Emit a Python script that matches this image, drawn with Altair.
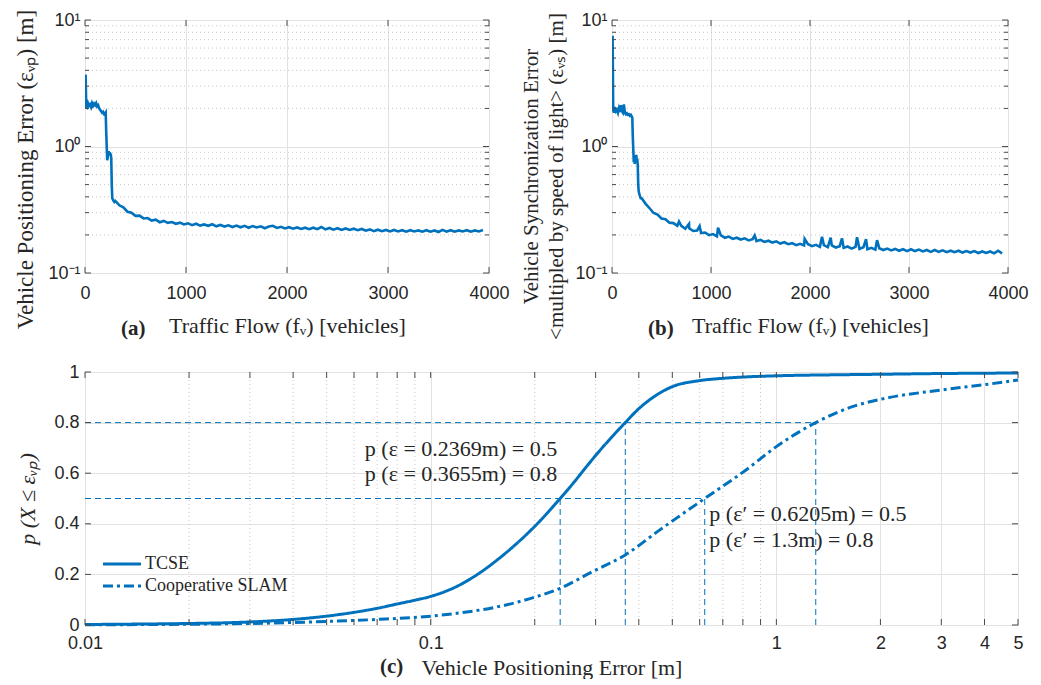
import altair as alt
import pandas as pd

BLUE = "#0072BD"
TXT = "#262626"
FRAME = "#4a4a4a"
GRID = "#e2e2e2"
MINOR = "#c8c8c8"
SANS = "Liberation Sans"
SERIF = "Liberation Serif"

# ---------------- panel (a): vehicle positioning error ----------------
a_head_x = [0, 6, 12, 20, 30, 40, 50, 60, 70, 80, 90, 100, 110, 120, 130, 140, 150,
            160, 170, 180, 190, 200, 205, 210, 215, 220, 225, 230, 235, 240, 245, 250,
            255, 260, 265, 270, 280, 290]
a_head_y = [2.0, 3.7, 2.1, 2.05, 2.2, 2.1, 2.15, 2.05, 2.2, 2.1, 2.18, 2.12, 2.2,
            2.08, 2.12, 2.0, 1.95, 1.9, 1.85, 1.88, 1.8, 1.82, 1.85, 1.3, 1.0, 0.78, 0.82,
            0.88, 0.92, 0.86, 0.9, 0.85, 0.88, 0.8, 0.5, 0.39, 0.375, 0.365]
a_tail_x = list(range(300, 3941, 40))
a_tail_y = [0.372, 0.343, 0.33, 0.305, 0.3, 0.283, 0.284, 0.27, 0.272, 0.26,
            0.264, 0.252, 0.258, 0.249, 0.253, 0.245, 0.25, 0.242, 0.247, 0.239,
            0.245, 0.237, 0.242, 0.236, 0.243, 0.234, 0.24, 0.233, 0.238, 0.231,
            0.237, 0.23, 0.236, 0.228, 0.235, 0.229, 0.234, 0.226, 0.233, 0.236,
            0.227, 0.232, 0.225, 0.23, 0.224, 0.229, 0.223, 0.228, 0.222, 0.228,
            0.222, 0.231, 0.221, 0.227, 0.22, 0.226, 0.219, 0.225, 0.219, 0.224,
            0.218, 0.223, 0.216, 0.221, 0.214, 0.22, 0.214, 0.219, 0.213, 0.219,
            0.213, 0.218, 0.212, 0.218, 0.213, 0.217, 0.212, 0.218, 0.212, 0.217,
            0.211, 0.219, 0.212, 0.218, 0.212, 0.217, 0.213, 0.218, 0.212, 0.217,
            0.213, 0.219]

# ---------------- panel (b): vehicle synchronization error ----------------
b_head_x = [0, 6, 12, 20, 30, 40, 50, 60, 70, 80, 90, 100, 110, 120, 130, 140, 150,
            160, 170, 180, 190, 200, 205, 210, 215, 220, 225, 230, 235, 240, 245, 250,
            255, 260, 265, 270, 280, 290]
b_head_y = [3.0, 7.5, 1.95, 1.85, 2.05, 1.9, 1.95, 1.85, 2.0, 1.88, 2.12, 1.9, 1.85,
            2.15, 1.85, 1.8, 1.83, 1.78, 1.8, 1.75, 1.78, 1.72, 1.7, 1.2, 0.95, 0.75, 0.78,
            0.73, 0.82, 0.8, 0.86, 0.78, 0.8, 0.72, 0.5, 0.44, 0.41, 0.39]
b_tail_x = list(range(300, 3941, 40))
b_tail_y = [0.39, 0.352, 0.325, 0.298, 0.29, 0.27, 0.266, 0.25, 0.248, 0.236,
            0.236, 0.224, 0.226, 0.215, 0.217, 0.207, 0.209, 0.199, 0.203, 0.195,
            0.198, 0.19, 0.194, 0.186, 0.19, 0.184, 0.188, 0.181, 0.185, 0.179,
            0.183, 0.176, 0.18, 0.174, 0.178, 0.171, 0.175, 0.169, 0.172, 0.166,
            0.17, 0.165, 0.169, 0.163, 0.167, 0.161, 0.166, 0.16, 0.165, 0.159,
            0.163, 0.158, 0.162, 0.156, 0.161, 0.155, 0.16, 0.154, 0.158, 0.153,
            0.157, 0.152, 0.156, 0.151, 0.155, 0.15, 0.154, 0.149, 0.154, 0.149,
            0.153, 0.148, 0.152, 0.147, 0.152, 0.147, 0.151, 0.146, 0.15, 0.146,
            0.15, 0.145, 0.149, 0.145, 0.149, 0.144, 0.148, 0.144, 0.148, 0.143,
            0.15, 0.143]
b_spike_x = [677, 778, 885, 1071, 1441, 1946, 2121, 2209, 2323, 2475, 2566, 2677]
b_spike_y = [0.255, 0.245, 0.235, 0.228, 0.198, 0.186, 0.193, 0.19, 0.188, 0.192, 0.185, 0.182]

# ---------------- panel (c): CDF of positioning error ----------------
tcse_x = [0.01, 0.015, 0.02, 0.03, 0.04, 0.05, 0.06, 0.07, 0.08, 0.09, 0.1, 0.12, 0.14,
          0.16, 0.18, 0.2, 0.2369, 0.26, 0.28, 0.3, 0.3655, 0.4, 0.44, 0.5, 0.6, 0.7, 0.8,
          1.0, 1.5, 2.0, 3.0, 5.0]
tcse_p = [0.002, 0.004, 0.006, 0.012, 0.022, 0.035, 0.05, 0.066, 0.083, 0.098, 0.113,
          0.155, 0.21, 0.27, 0.33, 0.39, 0.5, 0.565, 0.62, 0.67, 0.8, 0.855, 0.9, 0.942,
          0.966, 0.975, 0.98, 0.985, 0.989, 0.991, 0.994, 0.996]
slam_x = [0.01, 0.02, 0.03, 0.04, 0.05, 0.07, 0.1, 0.12, 0.14, 0.16, 0.18, 0.2, 0.2369,
          0.294, 0.3655, 0.459, 0.525, 0.6205, 0.817, 1.0, 1.3, 1.66, 2.0, 3.0, 4.0, 5.0]
slam_p = [0.001, 0.003, 0.006, 0.01, 0.014, 0.022, 0.035, 0.047, 0.06, 0.075, 0.092,
          0.11, 0.145, 0.211, 0.277, 0.375, 0.431, 0.5, 0.613, 0.705, 0.8, 0.863, 0.892,
          0.929, 0.95, 0.968]
series_names = ["TCSE", "Cooperative SLAM"]

ref_x = [0.2369, 0.3655, 0.6205, 1.3]
ref_p = [0.5, 0.8, 0.5, 0.8]
ref_xmin = 0.01

ann_text = ["p (ε = 0.2369m) = 0.5", "p (ε = 0.3655m) = 0.8",
            "p (ε′ = 0.6205m) = 0.5", "p (ε′ = 1.3m) = 0.8"]
ann_x = [0.0645, 0.0645, 0.64, 0.64]
ann_y = [0.696, 0.597, 0.439, 0.336]

# axis tick values
flow_ticks = [0, 1000, 2000, 3000, 4000]
log_major = [0.1, 1, 10]
log_minor = [0.2, 0.3, 0.4, 0.5, 0.6, 0.7, 0.8, 0.9, 2, 3, 4, 5, 6, 7, 8, 9]
c_major = [0.01, 0.1, 1, 2, 3, 4, 5]
c_minor = [0.02, 0.03, 0.04, 0.05, 0.06, 0.07, 0.08, 0.09,
           0.2, 0.3, 0.4, 0.5, 0.6, 0.7, 0.8, 0.9]
p_ticks = [0, 0.2, 0.4, 0.6, 0.8, 1]

W_A, W_B, W_C, H = 404, 396, 933, 253


def axis(values, title, **kw):
    base = dict(values=values, grid=True, gridColor=GRID, gridWidth=1, tickSize=0,
                domain=False, labelFont=SANS, labelFontSize=18, labelColor=TXT,
                labelFlush=False, labelOverlap=False, title=title, titleFont=SERIF,
                titleFontSize=22, titleFontWeight="normal", titleColor=TXT)
    base.update(kw)
    return alt.Axis(**base)


def xticks(vals, scale, ax, length, h):
    df = pd.DataFrame({"v": vals})
    c = alt.Chart(df).mark_rule(color=FRAME, strokeWidth=1)
    xe = alt.X("v:Q", scale=scale, axis=ax)
    return [c.encode(x=xe, y=alt.value(h), y2=alt.value(h - length)),
            c.encode(x=xe, y=alt.value(0), y2=alt.value(length))]


def yticks(vals, scale, ax, length, w):
    df = pd.DataFrame({"v": vals})
    c = alt.Chart(df).mark_rule(color=FRAME, strokeWidth=1)
    ye = alt.Y("v:Q", scale=scale, axis=ax)
    return [c.encode(y=ye, x=alt.value(0), x2=alt.value(length)),
            c.encode(y=ye, x=alt.value(w), x2=alt.value(w - length))]


def caption(letter, x, y):
    return alt.Chart(pd.DataFrame({"t": [letter]})).mark_text(
        font=SERIF, fontSize=21, fontWeight="bold", align="left", baseline="middle",
        color=TXT).encode(x=alt.value(x), y=alt.value(y), text="t:N")


sup_expr = "datum.value < 0.5 ? '10⁻¹' : (datum.value < 5 ? '10⁰' : '10¹')"


def top_panel(xs, ys, w, ytitle, letter, ytitle_pad, ytitle_y, ytitle_size):
    xsc = alt.Scale(domain=[0, 4000], nice=False, zero=False)
    ysc = alt.Scale(type="log", domain=[0.1, 10], nice=False)
    xax = axis(flow_ticks, "Traffic Flow (fᵥ) [vehicles]", format="d", labelPadding=11,
               titlePadding=13)
    yax = axis(log_major, ytitle, labelExpr=sup_expr, labelPadding=5,
               titlePadding=ytitle_pad, titleLineHeight=25, titleY=ytitle_y,
               titleFontSize=ytitle_size)
    df = pd.DataFrame({"x": xs, "y": ys}).sort_values("x")
    minor = alt.Chart(pd.DataFrame({"v": log_minor})).mark_rule(
        color=MINOR, strokeDash=[1, 3], strokeWidth=1).encode(
        y=alt.Y("v:Q", scale=ysc, axis=yax))
    line = alt.Chart(df).mark_line(color=BLUE, strokeWidth=2.6, clip=True).encode(
        x=alt.X("x:Q", scale=xsc, axis=xax),
        y=alt.Y("y:Q", scale=ysc, axis=yax))
    layers = [minor, line]
    layers += xticks(flow_ticks, xsc, xax, 6, H)
    layers += yticks(log_major, ysc, yax, 6, w)
    layers += yticks(log_minor, ysc, yax, 4, w)
    layers.append(caption(letter, 36, 309))
    return alt.layer(*layers).properties(width=w, height=H)


panel_a = top_panel(a_head_x + a_tail_x, a_head_y + a_tail_y, W_A,
                    "Vehicle Positioning Error (εᵥₚ) [m]", "(a)", 10, 149, 23)
panel_b = top_panel(b_head_x + b_tail_x + b_spike_x, b_head_y + b_tail_y + b_spike_y, W_B,
                    ["Vehicle Synchronization Error",
                     "<multipled by speed of light> (εᵥₛ) [m]"], "(b)", 8, 156, 21)

# ---- panel (c)
xsc = alt.Scale(type="log", domain=[0.01, 5], nice=False)
ysc = alt.Scale(domain=[0, 1], nice=False)
cx_ax = axis(c_major, "Vehicle Positioning Error [m]", format="~g",
             labelPadding=9, titlePadding=5)
cy_ax = axis(p_ticks, "p (X ≤ εᵥₚ)", format="~g", labelPadding=6,
             titlePadding=14, titleFontStyle="italic")
cdf = pd.concat([
    pd.DataFrame({"x": tcse_x, "p": tcse_p, "s": series_names[0]}),
    pd.DataFrame({"x": slam_x, "p": slam_p, "s": series_names[1]}),
])
minor_c = alt.Chart(pd.DataFrame({"v": c_minor})).mark_rule(
    color=MINOR, strokeDash=[1, 3], strokeWidth=1).encode(
    x=alt.X("v:Q", scale=xsc, axis=cx_ax))
curves = alt.Chart(cdf).mark_line(strokeWidth=3, color=BLUE, interpolate="monotone").encode(
    x=alt.X("x:Q", scale=xsc, axis=cx_ax),
    y=alt.Y("p:Q", scale=ysc, axis=cy_ax),
    strokeDash=alt.StrokeDash("s:N", scale=alt.Scale(domain=series_names,
                                                     range=[[1, 0], [10, 4, 3, 4]]),
                              legend=None),
    detail="s:N",
)
ref_df = pd.DataFrame({"x": ref_x, "p": ref_p, "x0": ref_xmin, "p0": 0.0})
href_df = ref_df.groupby("p", as_index=False).agg(xm=("x", "max"), x0=("x0", "first"))
ref_v = alt.Chart(ref_df).mark_rule(stroke=BLUE, strokeDash=[6, 4], strokeWidth=1).encode(
    x=alt.X("x:Q", scale=xsc, axis=cx_ax), y=alt.Y("p0:Q", scale=ysc, axis=cy_ax), y2="p:Q",
    color=alt.value(BLUE))
ref_h = alt.Chart(href_df).mark_rule(stroke=BLUE, strokeDash=[6, 4], strokeWidth=1).encode(
    x=alt.X("x0:Q", scale=xsc, axis=cx_ax), x2="xm:Q", y=alt.Y("p:Q", scale=ysc, axis=cy_ax),
    color=alt.value(BLUE))
ann = alt.Chart(pd.DataFrame({"t": ann_text, "x": ann_x, "y": ann_y})).mark_text(
    font=SERIF, fontSize=22, align="left", baseline="middle", color=TXT).encode(
    x=alt.X("x:Q", scale=xsc, axis=cx_ax), y=alt.Y("y:Q", scale=ysc, axis=cy_ax),
    text="t:N")

leg_df = pd.DataFrame({"s": series_names, "row": [0, 1]})
leg_layers = []
for i, name in enumerate(series_names):
    d = leg_df[leg_df.row == i]
    ly = 192 + 22 * i
    dash = [1, 0] if i == 0 else [10, 4, 3, 4]
    leg_layers.append(alt.Chart(d).mark_rule(color=BLUE, strokeWidth=3, strokeDash=dash)
                      .encode(x=alt.value(18), x2=alt.value(56), y=alt.value(ly)))
    leg_layers.append(alt.Chart(d).mark_text(font=SERIF, fontSize=18, align="left",
                                             baseline="middle", color=TXT)
                      .encode(x=alt.value(60), y=alt.value(ly), text="s:N"))

panel_c = alt.layer(
    minor_c, ref_h, ref_v, curves, ann,
    *xticks(c_major, xsc, cx_ax, 6, H), *xticks(c_minor, xsc, cx_ax, 6, H),
    *yticks(p_ticks, ysc, cy_ax, 6, W_C),
    *leg_layers,
    caption("(c)", 295, 295),
).properties(width=W_C, height=H)

top = alt.hconcat(panel_a, panel_b, spacing=10)
chart = alt.vconcat(top, panel_c, spacing=22).properties(
    padding={"left": 6, "top": 0, "right": 0, "bottom": 0}
).configure_view(stroke=FRAME, strokeWidth=1)

chart.save("out.html", embed_options={"renderer": "svg", "actions": False})
